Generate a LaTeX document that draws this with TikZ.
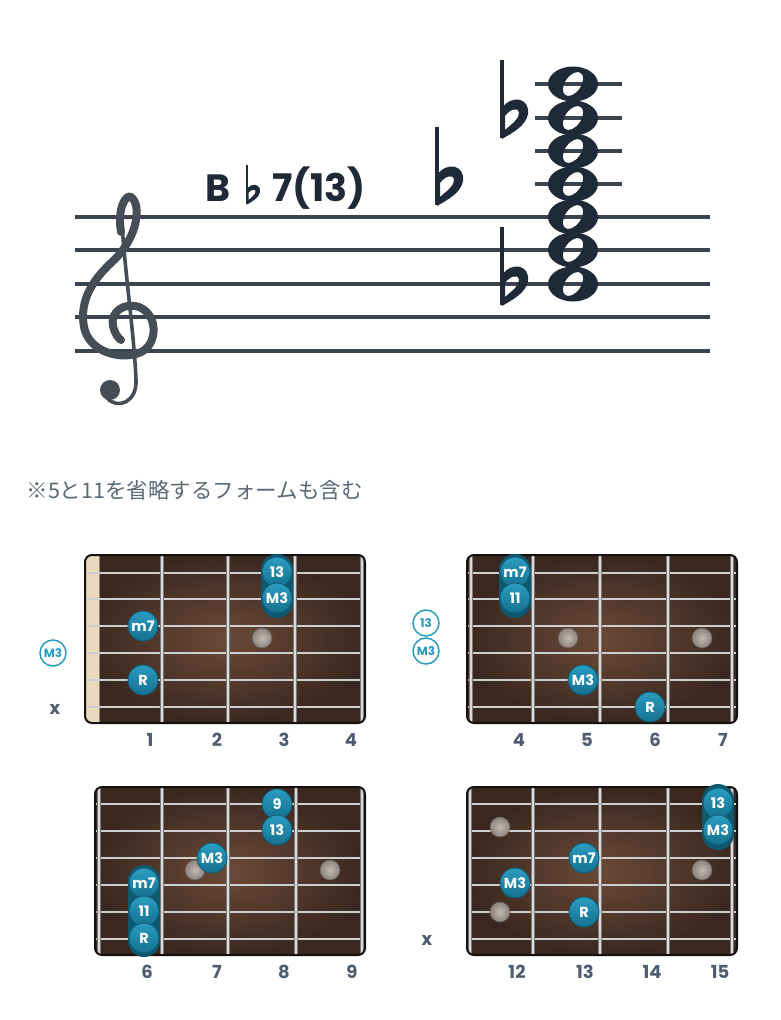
\documentclass[tikz,border=0pt]{standalone}
\usepackage{fontspec}
\setmainfont{Poppins}
\newfontfamily\jpfont{Noto Sans CJK JP}
\usetikzlibrary{positioning}

\definecolor{ink}{HTML}{1E2A38}
\definecolor{staffc}{HTML}{3B444E}
\definecolor{clefc}{HTML}{454D56}
\definecolor{slate}{HTML}{4E5E70}
\definecolor{notec}{HTML}{5A6878}
\definecolor{teal1}{HTML}{2A9CC0}
\definecolor{teal2}{HTML}{15708F}
\definecolor{tealdk}{HTML}{0E5870}
\definecolor{woodin}{HTML}{6B4A38}
\definecolor{woodout}{HTML}{3A2820}
\definecolor{edgec}{HTML}{17110E}
\definecolor{nutc}{HTML}{E9D9BD}
\definecolor{wirec}{HTML}{DADADA}
\definecolor{stringc}{HTML}{CFCFCF}
\definecolor{inlayin}{HTML}{C2BAB6}
\definecolor{inlayout}{HTML}{8E827D}

\begin{document}
\begin{tikzpicture}[x=1pt, y=-1pt,
  staffln/.style={draw=staffc, line width=3.4pt},
  clef/.style={draw=clefc, line cap=round},
  notehead/.style={fill=ink, even odd rule},
  chordtxt/.style={text=ink, font=\bfseries\fontsize{38}{38}\selectfont, inner sep=0pt},
  board/.style={rounded corners=7pt},
  strg/.style={draw=stringc, line width=2pt},
  fret/.style={draw=wirec!55!black, double=wirec, double distance=2.6pt, line width=0.7pt},
  tone/.style={circle, minimum size=30pt, inner sep=0pt, top color=teal1, bottom color=teal2, draw=tealdk, line width=0.8pt, text=white, font=\bfseries\fontsize{14.5}{14.5}\selectfont},
  barre/.style={draw=tealdk, line width=32pt, line cap=round},
  inlay/.style={circle, minimum size=20pt, inner sep=0pt, inner color=inlayin, outer color=inlayout, draw=inlayout!70!black, line width=0.6pt},
  openstr/.style={circle, minimum size=26pt, inner sep=0pt, draw=teal1, line width=1.5pt, fill=white, text=teal1, font=\bfseries\fontsize{12}{12}\selectfont},
  fretno/.style={text=slate, font=\bfseries\fontsize{18}{18}\selectfont},
  mute/.style={text=slate, font=\bfseries\fontsize{18}{18}\selectfont},
  flatsign/.pic={
    \fill[ink] (-2,0) rectangle (2,-78);
    \fill[ink, even odd rule] (0,-30) .. controls (10,-44) and (28,-40) .. (26,-24) .. controls (24,-12) and (10,-5) .. (0,1) -- cycle
      (3,-8) .. controls (10,-14) and (18,-20) .. (17,-26) .. controls (16,-31) and (8,-29) .. (3,-22) -- cycle;
  }
]
\useasboundingbox (0,0) rectangle (780,1020);

% staff
\foreach \y in {217,250,284,317,351}
  \draw[staffln] (75,\y) -- (710,\y);
\foreach \y in {84,118,151,184}
  \draw[staffln] (535,\y) -- (622,\y);

% treble clef
\draw[clef, line width=3.6pt] (121,205) .. controls (123,260) and (134,330) .. (136,380) .. controls (137,402) and (118,410) .. (107,398);
\fill[clefc] (110,390) circle (10);
\draw[clef, line width=8pt] (121,232) .. controls (117,208) and (126,194) .. (131,197) .. controls (142,205) and (138,238) .. (112,262) .. controls (88,284) and (80,305) .. (84,327) .. controls (89,352) and (120,360) .. (139,353) .. controls (158,346) and (159,315) .. (139,307) .. controls (124,302) and (110,312) .. (113,326) .. controls (115,334) and (118,338) .. (121,340);

% chord
\foreach \y in {84,118,151,184,217,250,284}
  \fill[notehead] (573,\y) ellipse [x radius=25, y radius=17.5]
    (573,\y) ellipse [x radius=8, y radius=13.5, rotate=-35];
\pic at (502,305) {flatsign};
\pic at (502,138) {flatsign};
\pic at (437,205) {flatsign};

% chord name
\node[chordtxt, anchor=base west] (nameB) at (205,201) {B};
\pic[scale=0.5] at (247,204) {flatsign};
\node[chordtxt, anchor=base west] (nameQ) at (272,201) {7(13)};

\node[anchor=west, text=notec, font=\jpfont\fontsize{21.5}{21.5}\selectfont] (memo) at (23,490) {※5と11を省略するフォームも含む};

% board 1
\shade[board, inner color=woodin, outer color=woodout] (85,555) rectangle (365,723);
\begin{scope}
  \clip[board] (85,555) rectangle (365,723);
  \fill[nutc] (85,555) rectangle (99,723);
  \draw[nutc!60!black] (99,555) -- (99,723);
  \foreach \y in {573,599,626,653,680,707}
    \draw[strg] (85,\y) -- (365,\y);
  \foreach \x in {162,228,295,362}
    \draw[fret] (\x,555) -- (\x,723);
\end{scope}
\draw[board, draw=edgec, line width=2pt] (85,555) rectangle (365,723);
\node[inlay] (aDot) at (262,638) {};
\draw[barre] (277,570) -- (277,602);
\node[tone] (aThirteen) at (277,572) {13};
\node[tone] (aThird) at (277,598) {M3};
\node[tone] (aSeventh) at (143,626) {m7};
\node[tone] (aRoot) at (143,680) {R};
\node[openstr] (aOpen) at (53,653) {M3};
\node[mute] (aMute) at (55,709) {x};
\node[fretno] (aFret1) at (150,740) {1};
\node[fretno] (aFret2) at (217,740) {2};
\node[fretno] (aFret3) at (284,740) {3};
\node[fretno] (aFret4) at (351,740) {4};

% board 2
\shade[board, inner color=woodin, outer color=woodout] (467,555) rectangle (737,723);
\begin{scope}
  \clip[board] (467,555) rectangle (737,723);
  \foreach \y in {573,599,626,653,680,707}
    \draw[strg] (467,\y) -- (737,\y);
  \foreach \x in {471,533,600,668,732}
    \draw[fret] (\x,555) -- (\x,723);
\end{scope}
\draw[board, draw=edgec, line width=2pt] (467,555) rectangle (737,723);
\node[inlay] (bDotA) at (568,638) {};
\node[inlay] (bDotB) at (702,638) {};
\draw[barre] (515,570) -- (515,602);
\node[tone] (bSeventh) at (515,572) {m7};
\node[tone] (bEleventh) at (515,598) {11};
\node[tone] (bThird) at (583,680) {M3};
\node[tone] (bRoot) at (650,707) {R};
\node[openstr] (bOpenA) at (426,623) {13};
\node[openstr] (bOpenB) at (426,651) {M3};
\node[fretno] (bFret4) at (519,740) {4};
\node[fretno] (bFret5) at (587,740) {5};
\node[fretno] (bFret6) at (655,740) {6};
\node[fretno] (bFret7) at (723,740) {7};

% board 3
\shade[board, inner color=woodin, outer color=woodout] (95,787) rectangle (365,955);
\begin{scope}
  \clip[board] (95,787) rectangle (365,955);
  \foreach \y in {804,831,858,885,912,939}
    \draw[strg] (95,\y) -- (365,\y);
  \foreach \x in {99,162,228,296,362}
    \draw[fret] (\x,787) -- (\x,955);
\end{scope}
\draw[board, draw=edgec, line width=2pt] (95,787) rectangle (365,955);
\node[inlay] (cDotA) at (195,870) {};
\node[inlay] (cDotB) at (330,870) {};
\node[tone] (cNinth) at (277,804) {9};
\node[tone] (cThirteen) at (277,830) {13};
\node[tone] (cThird) at (212,858) {M3};
\draw[barre] (144,881) -- (144,941);
\node[tone] (cSeventh) at (144,883) {m7};
\node[tone] (cEleventh) at (144,911) {11};
\node[tone] (cRoot) at (144,938) {R};
\node[fretno] (cFret6) at (147,972) {6};
\node[fretno] (cFret7) at (217,972) {7};
\node[fretno] (cFret8) at (284,972) {8};
\node[fretno] (cFret9) at (352,972) {9};

% board 4
\shade[board, inner color=woodin, outer color=woodout] (467,787) rectangle (737,955);
\begin{scope}
  \clip[board] (467,787) rectangle (737,955);
  \foreach \y in {804,831,858,885,912,939}
    \draw[strg] (467,\y) -- (737,\y);
  \foreach \x in {470,533,600,668,732}
    \draw[fret] (\x,787) -- (\x,955);
\end{scope}
\draw[board, draw=edgec, line width=2pt] (467,787) rectangle (737,955);
\node[inlay] (dDotA) at (500,827) {};
\node[inlay] (dDotB) at (500,912) {};
\node[inlay] (dDotC) at (702,870) {};
\draw[barre] (718,800) -- (718,834);
\node[tone] (dThirteen) at (718,803) {13};
\node[tone] (dThird) at (718,830) {M3};
\node[tone] (dSeventh) at (584,858) {m7};
\node[tone] (dThirdB) at (515,883) {M3};
\node[tone] (dRoot) at (584,912) {R};
\node[mute] (dMute) at (427,940) {x};
\node[fretno] (dFret12) at (517,972) {12};
\node[fretno] (dFret13) at (585,972) {13};
\node[fretno] (dFret14) at (652,972) {14};
\node[fretno] (dFret15) at (720,972) {15};

\end{tikzpicture}
\end{document}
